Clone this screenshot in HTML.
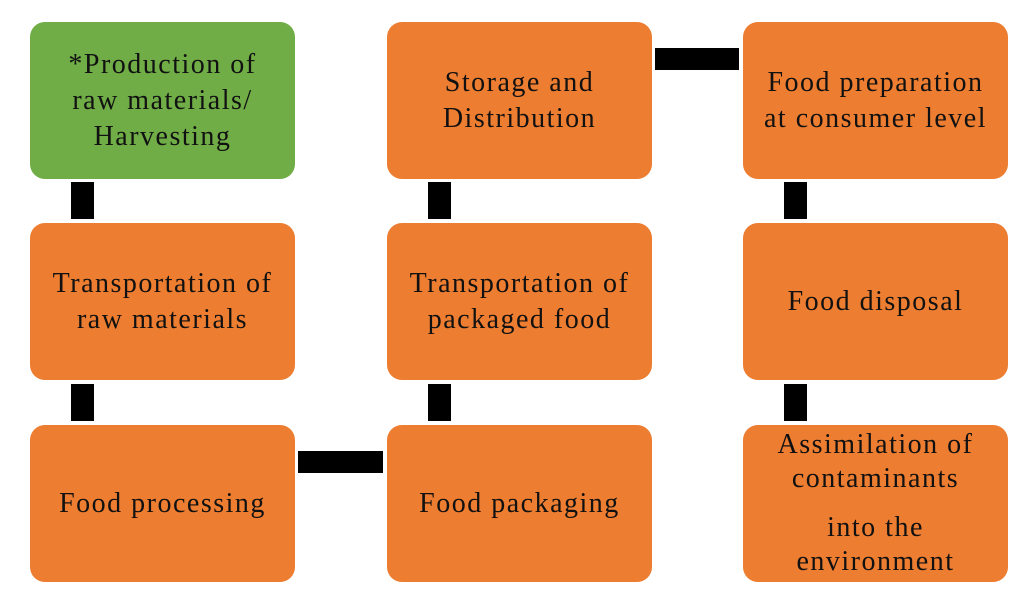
<!DOCTYPE html>
<html><head><style>
body{margin:0;width:1024px;height:597px;background:#fff;position:relative;overflow:hidden;font-family:"Liberation Serif",serif;}
.b{position:absolute;width:265px;height:157px;border-radius:15px;background:#ed7d31;display:flex;align-items:center;justify-content:center;text-align:center;font-size:28px;letter-spacing:1.5px;line-height:36px;color:#111;}
.g{background:#70ad47;}
.k{position:absolute;background:#000;}
</style></head><body>
<div class="b g" style="left:30px;top:22px"><div>*Production of<br>raw materials/<br>Harvesting</div></div>
<div class="b" style="left:30px;top:223px"><div>Transportation of<br>raw materials</div></div>
<div class="b" style="left:30px;top:425px"><div>Food processing</div></div>
<div class="b" style="left:387px;top:22px"><div>Storage and<br>Distribution</div></div>
<div class="b" style="left:387px;top:223px"><div>Transportation of<br>packaged food</div></div>
<div class="b" style="left:387px;top:425px"><div>Food packaging</div></div>
<div class="b" style="left:743px;top:22px"><div>Food preparation<br>at consumer level</div></div>
<div class="b" style="left:743px;top:223px"><div>Food disposal</div></div>
<div class="b" style="left:743px;top:425px;line-height:34px"><div>Assimilation of<br>contaminants<div style="margin-top:15px">into the<br>environment</div></div></div>
<div class="k" style="left:71px;top:182px;width:23px;height:37px"></div>
<div class="k" style="left:71px;top:384px;width:23px;height:37px"></div>
<div class="k" style="left:428px;top:182px;width:23px;height:37px"></div>
<div class="k" style="left:428px;top:384px;width:23px;height:37px"></div>
<div class="k" style="left:784px;top:182px;width:23px;height:37px"></div>
<div class="k" style="left:784px;top:384px;width:23px;height:37px"></div>
<div class="k" style="left:655px;top:48px;width:84px;height:22px"></div>
<div class="k" style="left:298px;top:451px;width:85px;height:22px"></div>
</body></html>
